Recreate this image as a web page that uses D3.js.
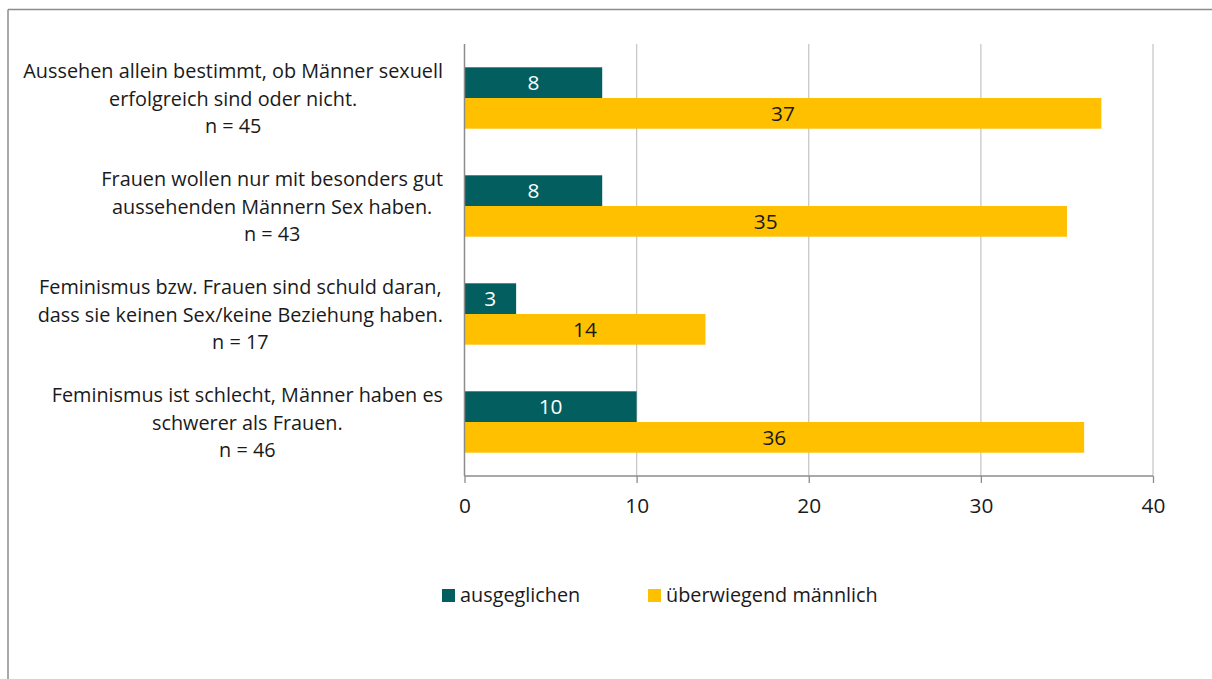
<!DOCTYPE html>
<html><head><meta charset="utf-8">
<script src="https://cdn.jsdelivr.net/npm/d3@7"></script>
<style>body{margin:0;background:#fff;} svg{display:block;font-family:"Open Sans", sans-serif;}</style>
</head><body>
<svg id="c" width="1212" height="679"></svg>
<script>
const categories = [
  ["Aussehen allein bestimmt, ob Männer sexuell", "erfolgreich sind oder nicht.", "n = 45"],
  ["Frauen wollen nur mit besonders gut", "aussehenden Männern Sex haben.", "n = 43"],
  ["Feminismus bzw. Frauen sind schuld daran,", "dass sie keinen Sex/keine Beziehung haben.", "n = 17"],
  ["Feminismus ist schlecht, Männer haben es", "schwerer als Frauen.", "n = 46"]
];
const seriesNames = ["ausgeglichen", "überwiegend männlich"];
const ausgeglichen = [8, 8, 3, 10];
const ueberwiegend = [37, 35, 14, 36];
const xTicks = [0, 10, 20, 30, 40];

const colors = ["#035f5f", "#ffc000"];
const labelColors = ["#ffffff", "#1a1a1a"];
const series = [ausgeglichen, ueberwiegend];

const svg = d3.select("#c");

// calibrate font size so text width approximates the reference (Calibri-like metrics)
const probe = svg.append("text").attr("font-size", 20).text(categories[0][0]);
const fs = Math.max(14, Math.min(20, 20 * 420 / probe.node().getComputedTextLength()));
probe.remove();
const nfs = fs + 1;

// outer border
svg.append("line").attr("x1", 8).attr("x2", 8).attr("y1", 9.5).attr("y2", 679).attr("stroke", "#8c8c8c").attr("stroke-width", 1.5);
svg.append("line").attr("x1", 8).attr("x2", 1212).attr("y1", 9.5).attr("y2", 9.5).attr("stroke", "#8c8c8c").attr("stroke-width", 1.5);

const x = d3.scaleLinear().domain([0, 40]).range([464.5, 1153]);
const y = d3.scaleBand().domain(d3.range(categories.length)).range([44, 476]);
const barH = 30.7;

// gridlines
svg.append("g").selectAll("line").data(xTicks.slice(1)).join("line")
  .attr("x1", d => x(d)).attr("x2", d => x(d)).attr("y1", 44).attr("y2", 476)
  .attr("stroke", "#c8c8c8").attr("stroke-width", 1.3);

// bars
series.forEach((vals, si) => {
  const g = svg.append("g");
  g.selectAll("rect").data(vals).join("rect")
    .attr("x", x(0)).attr("width", d => x(d) - x(0))
    .attr("y", (d, i) => y(i) + y.bandwidth() / 2 - barH + si * barH)
    .attr("height", barH).attr("fill", colors[si]);
  g.selectAll("text").data(vals).join("text")
    .attr("x", d => (x(0) + x(d)) / 2)
    .attr("y", (d, i) => y(i) + y.bandwidth() / 2 - barH + si * barH + barH / 2)
    .attr("dy", "0.35em").attr("text-anchor", "middle")
    .attr("font-size", nfs).attr("fill", labelColors[si]).text(d => d);
});

// x axis
const xAxis = d3.axisBottom(x).tickValues(xTicks).tickSize(7).tickPadding(15);
const ax = svg.append("g").attr("transform", "translate(0,476)").call(xAxis);
ax.select(".domain").attr("stroke", "#8c8c8c").attr("stroke-width", 1.3).attr("d", `M${x(0)},0H${x(40)}`);
ax.selectAll(".tick line").attr("stroke", "#8c8c8c").attr("stroke-width", 1.3);
ax.selectAll(".tick text").attr("font-size", nfs).attr("fill", "#1a1a1a").attr("font-family", "'Open Sans', sans-serif");

// y axis line
svg.append("line").attr("x1", x(0)).attr("x2", x(0)).attr("y1", 44).attr("y2", 476)
  .attr("stroke", "#8c8c8c").attr("stroke-width", 1.5);

// category labels
const lineH = 27.5;
categories.forEach((lines, i) => {
  const g = svg.append("g");
  const texts = lines.map(() => g.append("text").attr("font-size", fs).attr("fill", "#1a1a1a"));
  texts.forEach((t, j) => t.text(lines[j]));
  const widths = texts.map(t => t.node().getComputedTextLength());
  const maxW = d3.max(widths);
  const right = 443;
  const cx = right - maxW / 2;
  const cy = y(i) + y.bandwidth() / 2 + 1;
  texts.forEach((t, j) => {
    t.attr("x", cx).attr("text-anchor", "middle")
     .attr("y", cy + (j - (lines.length - 1) / 2) * lineH).attr("dy", "0.35em");
  });
});

// legend
const legendX = [442, 648];
seriesNames.forEach((name, si) => {
  svg.append("rect").attr("x", legendX[si]).attr("y", 589).attr("width", 13).attr("height", 13).attr("fill", colors[si]);
  svg.append("text").attr("x", legendX[si] + 18).attr("y", 595.5).attr("dy", "0.35em")
    .attr("font-size", fs).attr("fill", "#1a1a1a").text(name);
});
</script>
</body></html>
